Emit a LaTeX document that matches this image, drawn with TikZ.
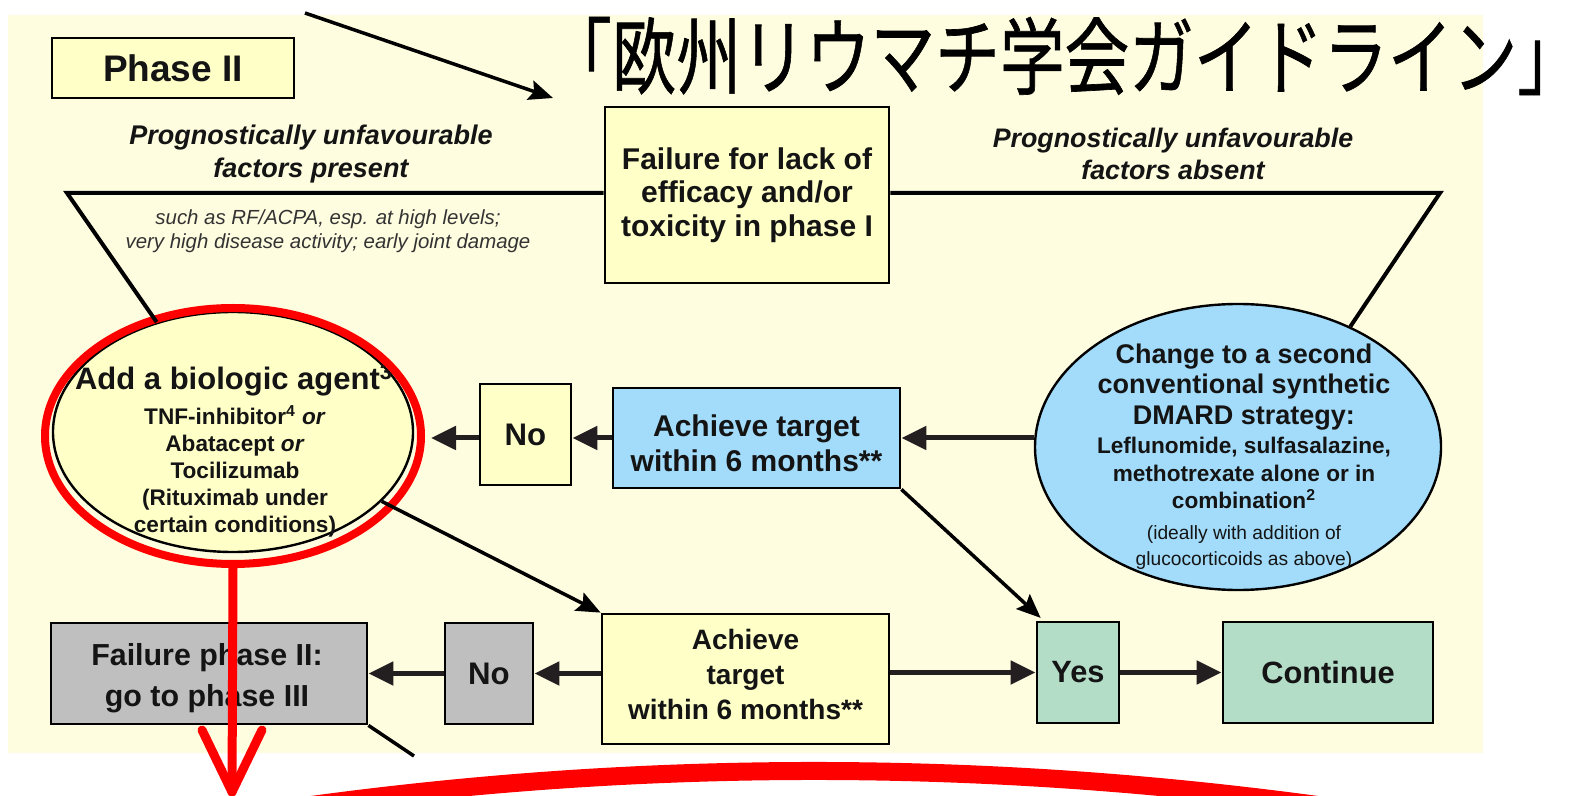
\documentclass[tikz,border=0pt]{standalone}
\usepackage{fontspec}
\usepackage{graphicx}
\setmainfont{Liberation Sans}
\newfontfamily\cjk[FakeBold=0.8]{Noto Sans CJK JP}
\usetikzlibrary{arrows.meta,shapes.geometric}
\definecolor{cream}{RGB}{255,253,224}
\definecolor{boxyellow}{RGB}{255,255,200}
\definecolor{boxblue}{RGB}{162,220,250}
\definecolor{boxgray}{RGB}{191,191,191}
\definecolor{boxgreen}{RGB}{180,221,200}
\definecolor{txt}{RGB}{20,20,20}
\definecolor{conncol}{RGB}{35,31,32}
\definecolor{hlred}{RGB}{255,0,0}
\tikzset{
  box/.style={draw=black, line width=1.4pt, inner sep=0pt, align=center, text=txt,
    font=\bfseries\fontsize{15}{17.3}\selectfont},
  ybox/.style={box, fill=boxyellow},
  bbox/.style={box, fill=boxblue},
  gbox/.style={box, fill=boxgray},
  grbox/.style={box, fill=boxgreen},
  ell/.style={ellipse, draw=black, line width=1.2pt, inner sep=0pt},
  lbl/.style={align=center, text=txt, inner sep=0pt},
  conn/.style={draw=black, line width=2pt},
  arr/.style={draw=conncol, line width=2.5pt, -{Triangle[length=12.5pt,width=11.5pt]}},
  thinarr/.style={draw=black, line width=1.75pt, -{Stealth[length=12pt,width=10pt,inset=2pt]}},
  redline/.style={draw=hlred, line width=4.5pt, line cap=round, line join=round},
}
\begin{document}
\begin{tikzpicture}[x=0.5pt,y=-0.5pt]
\useasboundingbox (0,0) rectangle (1596,796);
\clip (0,0) rectangle (1596,796);
\fill[white] (0,0) rectangle (1596,796);
% background panel
\fill[cream] (8,15) rectangle (1483,753);

% title
\node[lbl, text=black, font=\cjk\fontsize{42}{42}\selectfont] (title) at (1050,56)
  {\scalebox{0.77}[1]{「欧州リウマチ学会ガイドライン」\kern-0.45em}};

% boxes
\node[ybox, minimum width=121pt, minimum height=30pt, font=\bfseries\fontsize{18.5}{20}\selectfont] (phase) at (173,68) {Phase II};
\node[ybox, minimum width=142pt, minimum height=88pt, font=\bfseries\fontsize{15}{16.8}\selectfont] (fail1) at (747,195)
  {Failure for lack of\\efficacy and/or\\toxicity in phase I};
\node[ybox, minimum width=45.5pt, minimum height=50.5pt, font=\bfseries\fontsize{15.6}{17}\selectfont] (no1) at (525.5,434.5) {No};
\node[bbox, minimum width=143.5pt, minimum height=50pt] (ach1) at (756.5,438) {};
\node[lbl, font=\bfseries\fontsize{15}{17.3}\selectfont] (ach1t) at (756.5,443)
  {Achieve target\\within 6 months**};
\node[ybox, minimum width=143.5pt, minimum height=65pt] (ach2) at (745.5,679) {};
\node[lbl, font=\bfseries\fontsize{14}{17.5}\selectfont] (ach2t) at (745.5,674)
  {Achieve\\target\\within 6 months**};
\node[gbox, minimum width=44pt, minimum height=50.5pt, font=\bfseries\fontsize{15.6}{17}\selectfont] (no2) at (489,673.5) {No};
\node[gbox, minimum width=158pt, minimum height=50.5pt] (fail2) at (209,673.5) {};
\node[lbl, font=\bfseries\fontsize{15.2}{20.3}\selectfont] (fail2t) at (207,678)
  {Failure phase II:\\go to phase III};
\node[grbox, minimum width=41pt, minimum height=50.5pt, font=\bfseries\fontsize{15.4}{17}\selectfont] (yes) at (1078,672.5) {Yes};
\node[grbox, minimum width=105pt, minimum height=50.5pt, font=\bfseries\fontsize{15.4}{17}\selectfont] (cont) at (1328,672.5) {Continue};

% ellipses
\node[ell, fill=boxyellow, minimum width=180pt, minimum height=120pt] (ell1) at (233,432) {};
\node[ell, fill=boxblue, minimum width=203pt, minimum height=143pt] (ell2) at (1238,447) {};

% free texts
\node[lbl, font=\bfseries\itshape\fontsize{13.5}{16.3}\selectfont] (prog1) at (311,154)
  {Prognostically unfavourable\\factors present};
\node[lbl, font=\bfseries\itshape\fontsize{13.4}{16}\selectfont] (prog2) at (1173,154)
  {Prognostically unfavourable\\factors absent};
\node[lbl, text=black!80, font=\itshape\fontsize{10.2}{11.8}\selectfont] (small) at (328,231)
  {such as RF/ACPA, esp. at high levels;\\very high disease activity; early joint damage};
\node[lbl, font=\bfseries\fontsize{15.5}{18}\selectfont] (e1a) at (234,380)
  {Add a biologic agent\textsuperscript{3}};
\node[lbl, font=\bfseries\fontsize{11.3}{13.5}\selectfont] (e1b) at (235,471)
  {TNF-inhibitor\textsuperscript{4} \textit{or}\\Abatacept \textit{or}\\Tocilizumab\\(Rituximab under\\certain conditions)};
\node[lbl, font=\bfseries\fontsize{13.5}{15.25}\selectfont] (e2a) at (1244,387)
  {Change to a second\\conventional synthetic\\DMARD strategy:};
\node[lbl, font=\bfseries\fontsize{11.3}{13.75}\selectfont] (e2b) at (1244,473)
  {Leflunomide, sulfasalazine,\\methotrexate alone or in\\combination\textsuperscript{2}};
\node[lbl, font=\fontsize{9.6}{13}\selectfont] (e2c) at (1244,548)
  {(ideally with addition of\\glucocorticoids as above)};

% highlight ellipse (red)
\node[ellipse, draw=hlred, line width=4pt, inner sep=0pt, minimum width=188pt, minimum height=128pt] (hl) at (233,436) {};

% connectors
\coordinate (tl) at (67,193);
\coordinate (tr) at (1440,193);
\coordinate (topstart) at (305,13);
\coordinate (topend) at (553,98);
\coordinate (f2end) at (414,756);
\draw[conn, line join=miter] (fail1.west |- tl) -- (tl) -- (ell1);
\draw[conn, line join=miter] (fail1.east |- tr) -- (tr) -- (ell2.47);
\draw[thinarr] (topstart) -- (topend);
\draw[thinarr] (ell1.-25) -- (ach2.north west);
\draw[thinarr, shorten >=2pt] (ach1.south east) -- ([xshift=4pt]yes.north west);
\draw[conn, line width=1.75pt] (fail2.south east) -- (f2end);

\draw[arr] (ell2.west |- ach1.east) -- (ach1.east);
\draw[arr] (ach1.west) -- (ach1.west -| no1.east);
\draw[arr, shorten >=3pt] (no1.west |- ach1.west) -- (ach1.west -| hl.east);
\draw[arr] (ach2.west |- no2.east) -- (no2.east);
\draw[arr] (no2.west) -- (fail2.east);
\draw[arr] (ach2.east |- yes.west) -- (yes.west);
\draw[arr] (yes.east) -- (cont.west);

% red annotations
\coordinate (rtip) at (232,792);
\coordinate (rw1) at (202,730);
\coordinate (rw2) at (262,730);
\draw[redline] (hl.south) -- (rtip);
\draw[redline] (rw1) -- (rtip) -- (rw2);
\coordinate (arcL) at (262,812);
\coordinate (arcC1) at (630,757.3);
\coordinate (arcC2) at (998,757.3);
\coordinate (arcR) at (1367,812);
\draw[draw=hlred, line width=9pt] (arcL) .. controls (arcC1) and (arcC2) .. (arcR);
\end{tikzpicture}
\end{document}
